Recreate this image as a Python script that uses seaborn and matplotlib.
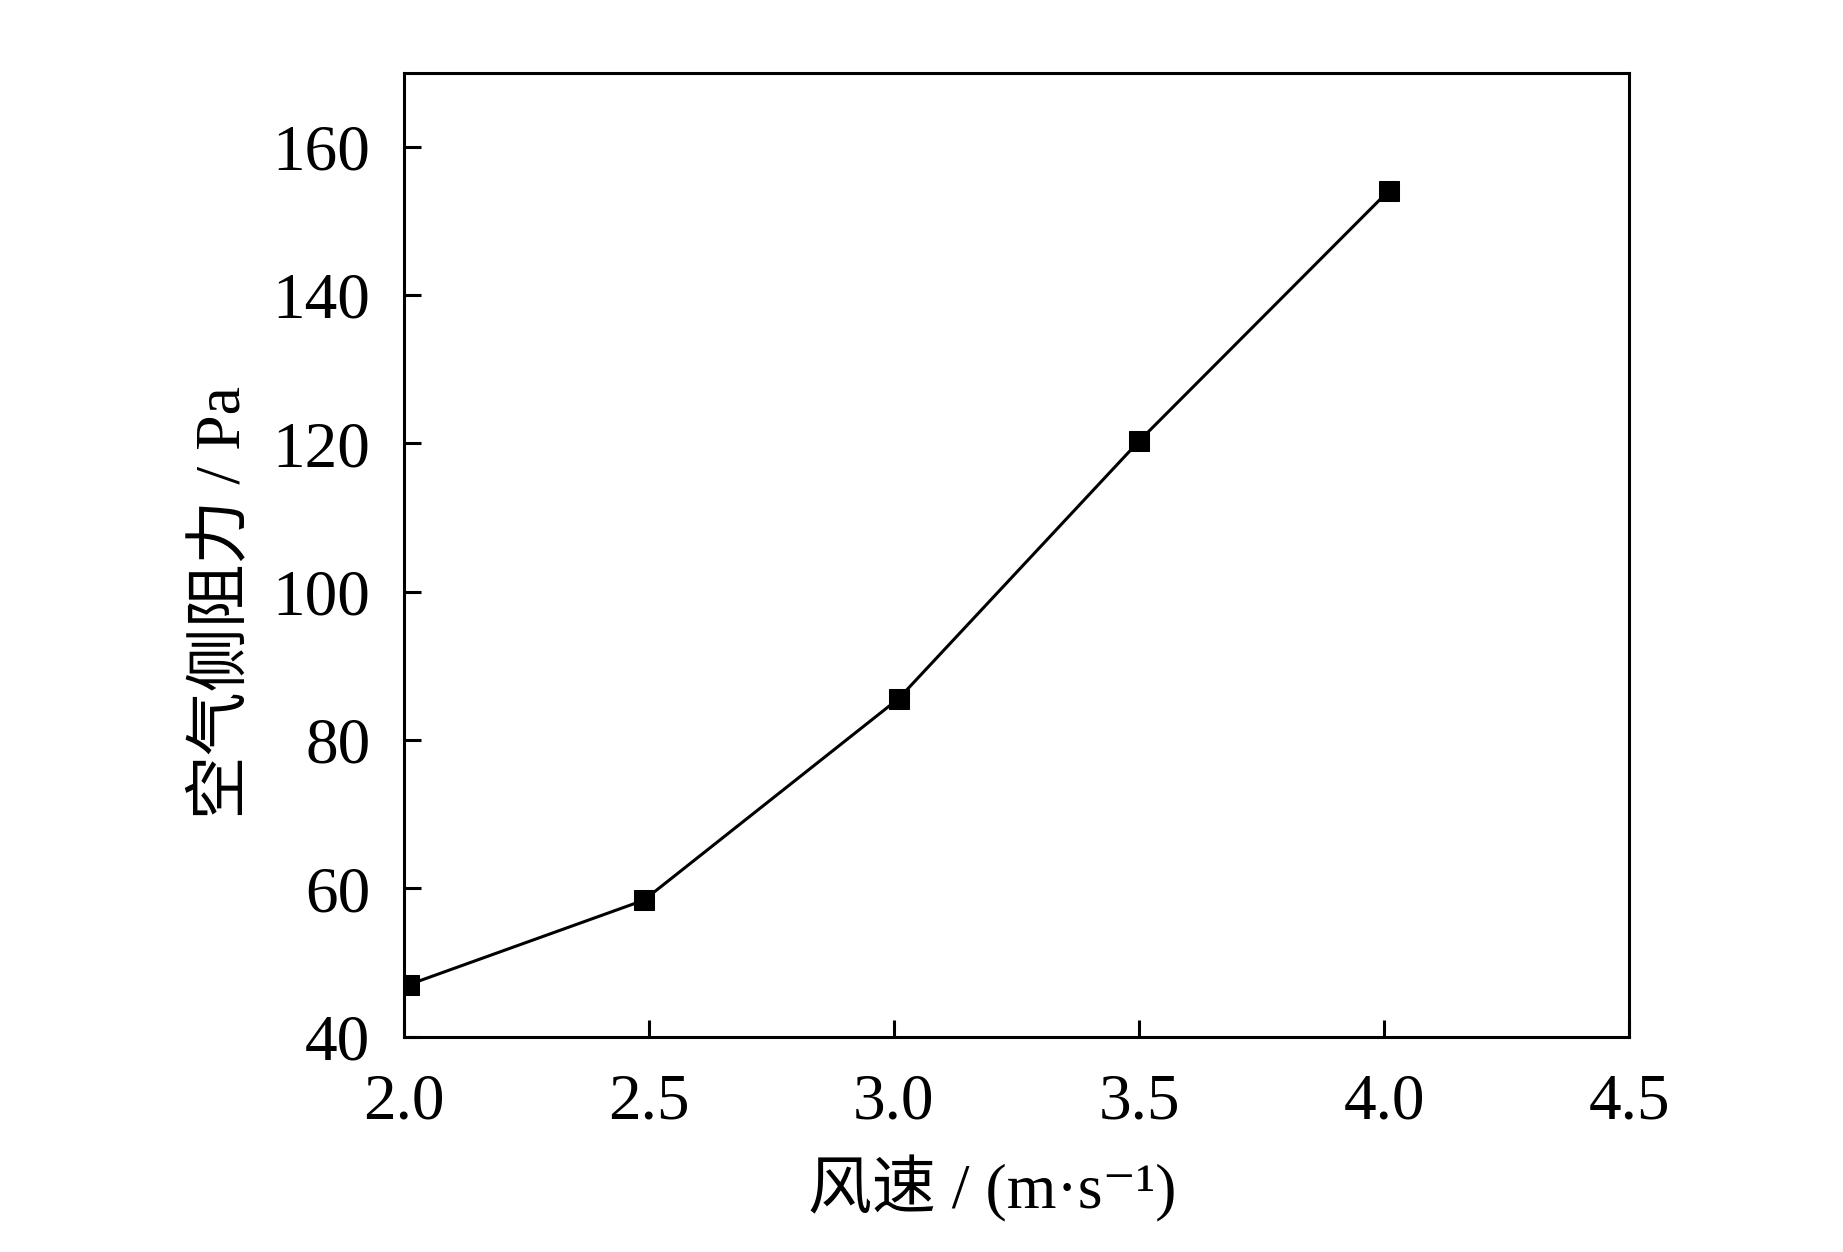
import matplotlib
matplotlib.use("Agg")
import matplotlib.pyplot as plt
import seaborn as sns
import pandas as pd

# data
wind_speed = [2.01, 2.49, 3.01, 3.50, 4.01]
pressure_drop = [47.0, 58.4, 85.6, 120.3, 154.1]
x_ticks = [2.0, 2.5, 3.0, 3.5, 4.0, 4.5]
y_ticks = [40, 60, 80, 100, 120, 140, 160]
x_label = "风速 / (m·s⁻¹)"
y_label = "空气侧阻力 / Pa"

sns.set_theme(style="white")
plt.rcParams['font.family'] = ['Liberation Serif', 'Noto Sans CJK SC', 'DejaVu Sans']
plt.rcParams['axes.unicode_minus'] = False
plt.rcParams['text.color'] = 'black'
plt.rcParams['axes.labelcolor'] = 'black'

df = pd.DataFrame({"x": wind_speed, "y": pressure_drop})

fig = plt.figure(figsize=(18.43, 12.52), dpi=100)
ax = fig.add_axes([0.219, 0.172, 0.665, 0.770])

sns.lineplot(data=df, x="x", y="y", ax=ax, color="black", linewidth=2.2,
             marker="s", markersize=15, markeredgecolor="black",
             markerfacecolor="black")

ax.set_xlim(2.0, 4.5)
ax.set_ylim(40, 170)
ax.set_xticks(x_ticks)
ax.set_xticklabels([f"{v:.1f}" for v in x_ticks])
ax.set_yticks(y_ticks)
ax.set_yticklabels([str(v) for v in y_ticks])

for s in ax.spines.values():
    s.set_visible(True)
    s.set_color("black")
    s.set_linewidth(2.2)

ax.tick_params(axis="both", direction="in", length=12, width=2.2,
               labelsize=47, colors="black", bottom=True, left=True,
               top=False, right=False)
ax.tick_params(axis="y", pad=24)
ax.tick_params(axis="x", pad=26)

ax.set_xlabel(x_label, fontsize=46, color="black")
ax.set_ylabel(y_label, fontsize=46, color="black")
ax.xaxis.set_label_coords(0.48, -0.123)
ax.yaxis.set_label_coords(-0.123, 0.45)

fig.savefig("out.png", dpi=100, facecolor="white")
